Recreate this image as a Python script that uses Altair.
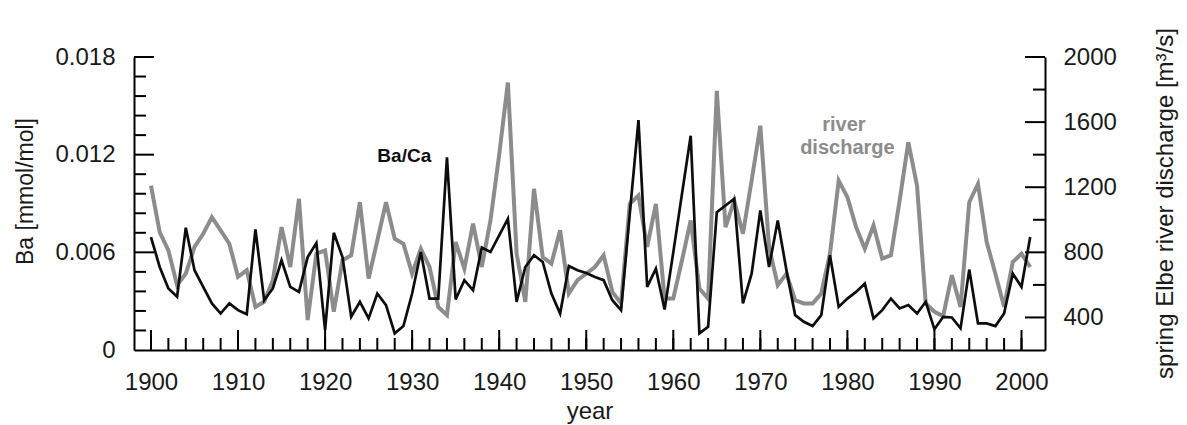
import altair as alt
import pandas as pd

# ---------------- data ----------------
years = list(range(1900, 2002))

ba_ca = [
    0.00694, 0.00510, 0.00378, 0.00327, 0.00751, 0.00490, 0.00388, 0.00286, 0.00224, 0.00286,
    0.00245, 0.00220, 0.00741, 0.00306, 0.00378, 0.00551, 0.00388, 0.00357, 0.00571, 0.00657,
    0.00122, 0.00720, 0.00571, 0.00204, 0.00296, 0.00194, 0.00347, 0.00276, 0.00102, 0.00147,
    0.00347, 0.00602, 0.00316, 0.00316, 0.01184, 0.00310, 0.00429, 0.00367, 0.00629, 0.00602,
    0.00704, 0.00806, 0.00296, 0.00510, 0.00582, 0.00541, 0.00347, 0.00224, 0.00516, 0.00490,
    0.00473, 0.00449, 0.00429, 0.00306, 0.00245, 0.00837, 0.01412, 0.00388, 0.00500, 0.00249,
    0.00600, 0.00960, 0.01316, 0.00102, 0.00143, 0.00847, 0.00888, 0.00929, 0.00286, 0.00469,
    0.00857, 0.00510, 0.00796, 0.00490, 0.00214, 0.00173, 0.00147, 0.00214, 0.00582, 0.00265,
    0.00316, 0.00357, 0.00408, 0.00194, 0.00245, 0.00316, 0.00255, 0.00276, 0.00224, 0.00296,
    0.00127, 0.00204, 0.00200, 0.00133, 0.00494, 0.00163, 0.00163, 0.00147, 0.00224, 0.00469,
    0.00388, 0.00694,
]

discharge = [
    1210, 924, 812, 598, 669, 833, 914, 1016, 935, 853,
    649, 690, 465, 496, 629, 955, 710, 1129, 384, 792,
    812, 435, 751, 782, 1108, 639, 873, 1108, 884, 853,
    669, 822, 710, 465, 414, 863, 700, 976, 710, 996,
    1400, 1843, 792, 496, 1190, 771, 731, 935, 547, 629,
    669, 710, 782, 557, 486, 1098, 1149, 833, 1098, 516,
    516, 751, 996, 578, 516, 1792, 955, 1118, 914, 1241,
    1578, 833, 598, 669, 506, 486, 486, 547, 792, 1241,
    1139, 955, 822, 965, 761, 782, 1118, 1476, 1210, 486,
    435, 408, 659, 465, 1108, 1220, 863, 669, 465, 741,
    792, 710,
]

year_labels = list(range(1900, 2001, 10))
year_ticks_minor = list(range(1900, 2001, 2))
ba_labels = [0, 0.006, 0.012, 0.018]
ba_ticks_minor = [0.0012, 0.0024, 0.0036, 0.0048, 0.0072, 0.0084, 0.0096,
                  0.0108, 0.0132, 0.0144, 0.0156, 0.0168]
ba_ticks_major = [0.006, 0.012, 0.018]
q_labels = [400, 800, 1200, 1600, 2000]
q_ticks_minor = [600, 1000, 1400, 1800]

ba_note = ["Ba/Ca"]
ba_note_year = [1929.1]
ba_note_val = [0.01190]
q_note = ["river", "discharge"]
q_note_year = [1979.6, 1980.0]
q_note_val = [1582, 1441]

# ---------------- styling ----------------
W, H = 911, 293
FONT = "Liberation Sans"
GRAY = "#8c8c8c"
BLACK = "#0d0d0d"
TXT = "#1a1a1a"
MAJ, MIN = 20, 12

xs = alt.Scale(domain=[1898.05, 2002.7], nice=False, zero=False)
ys_ba = alt.Scale(domain=[0, 0.018], nice=False, zero=False)
ys_q = alt.Scale(domain=[200, 2000], nice=False, zero=False)

df = pd.DataFrame({"year": years, "ba": ba_ca, "q": discharge})

x_axis = alt.Axis(values=year_labels, format="d", ticks=False, tickSize=0, grid=False,
                  labelFontSize=24, labelPadding=20, labelFont=FONT, labelColor=TXT,
                  title="year", titleFontSize=24, titleFont=FONT, titleFontWeight="normal",
                  titleColor=TXT, titleY=68, titleBaseline="alphabetic",
                  domainColor="black", domainWidth=2)

q_axis = alt.Axis(
    orient="right", values=q_labels, format="d", ticks=False, tickSize=0, grid=False,
    labelFontSize=24, labelPadding=18, labelFont=FONT, labelColor=TXT,
    title="spring Elbe river discharge [m³/s]", titleFontSize=24, titleFont=FONT,
    titleFontWeight="normal", titleColor=TXT, titleAngle=270,
    titleX=127, titleY=146, titleBaseline="alphabetic", titleAlign="center",
    domainColor="black", domainWidth=2)

ba_axis = alt.Axis(
    orient="left", values=ba_labels, ticks=False, tickSize=0, grid=False,
    labelExpr="datum.value == 0 ? '0' : format(datum.value, '.3f')",
    labelFontSize=24, labelPadding=19, labelFont=FONT, labelColor=TXT,
    title="Ba [mmol/mol]", titleFontSize=23, titleFont=FONT, titleFontWeight="normal",
    titleColor=TXT, titleAngle=270, titleX=-102, titleY=134,
    titleBaseline="alphabetic", titleAlign="center",
    domainColor="black", domainWidth=2)

# gray discharge line (right axis)
gray_line = alt.Chart(df).mark_line(color=GRAY, strokeWidth=4).encode(
    x=alt.X("year:Q", scale=xs, axis=x_axis),
    y=alt.Y("q:Q", scale=ys_q, axis=q_axis),
)
q_minor = alt.Chart(pd.DataFrame({"q": q_ticks_minor})).mark_rule(color="black", strokeWidth=2).encode(
    y=alt.Y("q:Q", scale=ys_q, axis=q_axis), x=alt.value(W - MIN), x2=alt.value(W))
q_major = alt.Chart(pd.DataFrame({"q": q_labels})).mark_rule(color="black", strokeWidth=2).encode(
    y=alt.Y("q:Q", scale=ys_q, axis=q_axis), x=alt.value(W - MAJ), x2=alt.value(W))
q_text = alt.Chart(pd.DataFrame({"t": q_note, "year": q_note_year, "q": q_note_val})).mark_text(
    font=FONT, fontSize=20, fontWeight="bold", color=GRAY, baseline="middle", align="center").encode(
    x=alt.X("year:Q", scale=xs, axis=x_axis), y=alt.Y("q:Q", scale=ys_q, axis=q_axis), text="t:N")

q_layer = alt.layer(gray_line, q_minor, q_major, q_text)

# black Ba/Ca line (left axis)
black_line = alt.Chart(df).mark_line(color=BLACK, strokeWidth=2.7).encode(
    x=alt.X("year:Q", scale=xs, axis=x_axis),
    y=alt.Y("ba:Q", scale=ys_ba, axis=ba_axis),
)
ba_minor = alt.Chart(pd.DataFrame({"ba": ba_ticks_minor})).mark_rule(color="black", strokeWidth=2).encode(
    y=alt.Y("ba:Q", scale=ys_ba, axis=ba_axis), x=alt.value(0), x2=alt.value(MIN))
ba_major = alt.Chart(pd.DataFrame({"ba": ba_ticks_major})).mark_rule(color="black", strokeWidth=2).encode(
    y=alt.Y("ba:Q", scale=ys_ba, axis=ba_axis), x=alt.value(0), x2=alt.value(MAJ))
x_minor = alt.Chart(pd.DataFrame({"year": year_ticks_minor})).mark_rule(color="black", strokeWidth=2).encode(
    x=alt.X("year:Q", scale=xs, axis=x_axis), y=alt.value(H), y2=alt.value(H - MIN))
x_major = alt.Chart(pd.DataFrame({"year": year_labels})).mark_rule(color="black", strokeWidth=2).encode(
    x=alt.X("year:Q", scale=xs, axis=x_axis), y=alt.value(H), y2=alt.value(H - MAJ))
ba_text = alt.Chart(pd.DataFrame({"t": ba_note, "year": ba_note_year, "ba": ba_note_val})).mark_text(
    font=FONT, fontSize=19, fontWeight="bold", color=BLACK, baseline="middle", align="center").encode(
    x=alt.X("year:Q", scale=xs, axis=x_axis), y=alt.Y("ba:Q", scale=ys_ba, axis=ba_axis), text="t:N")

ba_layer = alt.layer(black_line, ba_minor, ba_major, x_minor, x_major, ba_text)

chart = alt.layer(q_layer, ba_layer).resolve_scale(y="independent").properties(
    width=W, height=H,
    autosize=alt.AutoSizeParams(type="none"),
    padding={"left": 126, "top": 49, "right": 134, "bottom": 76},
    background="white",
).configure_view(stroke=None)

chart.save("out.html", embed_options={"renderer": "svg", "actions": False})
